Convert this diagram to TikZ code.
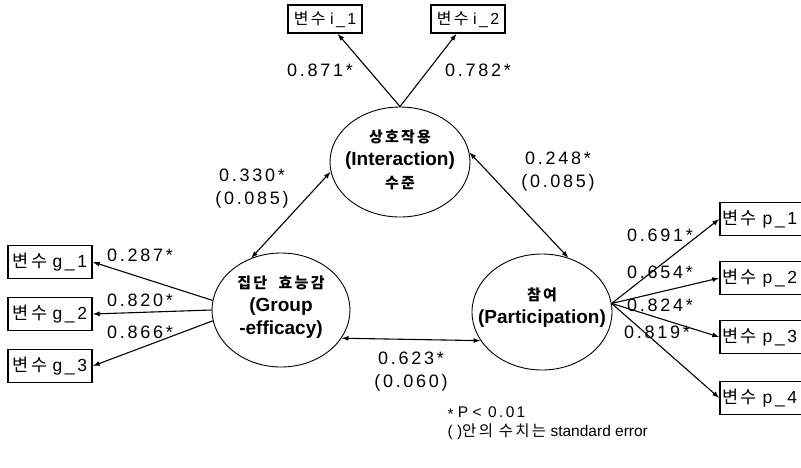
\documentclass[tikz,border=0pt]{standalone}
\usepackage{fontspec}
\setmainfont{Liberation Sans}
\newfontfamily\kr[LetterSpace=15]{Noto Sans CJK KR}
\newfontfamily\coeffont[LetterSpace=15]{Liberation Sans}
\usetikzlibrary{arrows.meta,shapes.geometric}
\newcommand\hg[1]{{\kr\fontsize{15}{22}\selectfont #1}}

\begin{document}
\begin{tikzpicture}[x=1pt, y=-1pt, line width=1.1pt,
    arr/.style={-{Latex[length=7pt,width=5pt]}},
    both/.style={{Latex[length=7pt,width=5pt]}-{Latex[length=7pt,width=5pt]}},
    latent/.style={draw, ellipse, inner sep=0pt, line width=0.9pt},
    lattext/.style={align=center, inner sep=0pt, font=\fontsize{19}{23}\selectfont\bfseries},
    item/.style={draw, rectangle, line width=1.4pt, minimum width=74pt, minimum height=28pt, inner sep=0pt, font=\fontsize{16}{16}\selectfont},
    wide/.style={minimum width=84pt, minimum height=33pt, font=\fontsize{17.5}{17.5}\selectfont},
    cut/.style={text width=92pt, inner xsep=2pt, align=left},
    coef/.style={align=center, inner sep=0pt, font=\coeffont\fontsize{18}{23}\selectfont}]
\useasboundingbox (0,0) rectangle (801,467);

% latent variables
\node[latent, minimum width=140pt, minimum height=110pt] (inter) at (400,162) {};
\node[lattext] (inter-t) at (400,160) {\hg{상호작용}\\(Interaction)\\\hg{수준}};
\node[latent, minimum width=138pt, minimum height=114pt] (grp) at (281,310) {};
\node[lattext] (grp-t) at (281,307) {\hg{집단 \ 효능감}\\(Group\\-efficacy)};
\node[latent, minimum width=140pt, minimum height=116pt] (part) at (542,312) {};
\node[lattext] (part-t) at (542,308) {\hg{참여}\\(Participation)};

% observed variables
\node[item] (i1) at (325,19) {{\kr 변수} {\coeffont i\_1}};
\node[item] (i2) at (468,19) {{\kr 변수} {\coeffont i\_2}};
\node[item, wide] (g1) at (50,262) {{\kr 변수} {\coeffont g\_1}};
\node[item, wide] (g2) at (50,314) {{\kr 변수} {\coeffont g\_2}};
\node[item, wide] (g3) at (50,366) {{\kr 변수} {\coeffont g\_3}};
\node[item, wide, cut] (p1) at (768,219) {{\kr 변수} {\coeffont p\_1}};
\node[item, wide, cut] (p2) at (768,278) {{\kr 변수} {\coeffont p\_2}};
\node[item, wide, cut] (p3) at (768,337) {{\kr 변수} {\coeffont p\_3}};
\node[item, wide, cut] (p4) at (768,398) {{\kr 변수} {\coeffont p\_4}};

% loadings
\draw[arr] (inter.north) -- (i1);
\draw[arr] (inter.north) -- (i2);
\draw[arr] (grp.172) -- (g1.east);
\draw[arr] (grp.180) -- (g2.east);
\draw[arr] (grp.189) -- (g3.east);
\draw[arr] (part.7) -- (p1.west);
\draw[arr] (part.7) -- (p2.west);
\draw[arr] (part.7) -- (p3.west);
\draw[arr] (part.7) -- (p4.west);

% correlations
\draw[both] (grp.120) -- (inter.188);
\draw[both] (inter.8) -- (part.64);
\draw[both] (grp.-25) -- (part.205);

\node[coef] (c871) at (320,70) {0.871*};
\node[coef] (c782) at (478,70) {0.782*};
\node[coef] (c330) at (252,189) {0.330*\\(0.085)};
\node[coef] (c248) at (558,172) {0.248*\\(0.085)};
\node[coef] (c623) at (411,372) {0.623*\\(0.060)};
\node[coef] (c287) at (140,255) {0.287*};
\node[coef] (c820) at (140,300) {0.820*};
\node[coef] (c866) at (140,332) {0.866*};
\node[coef] (c691) at (660,235) {0.691*};
\node[coef] (c654) at (660,272) {0.654*};
\node[coef] (c824) at (660,305) {0.824*};
\node[coef] (c819) at (657,332) {0.819*};

\node[anchor=north west, align=left, inner sep=0pt, font=\fontsize{15.5}{19}\selectfont] (note) at (447,406)
  {\raisebox{-0.3ex}{*} P {\coeffont < 0.01}\\( ){\kr 안의 수치는} standard error};
\end{tikzpicture}
\end{document}
